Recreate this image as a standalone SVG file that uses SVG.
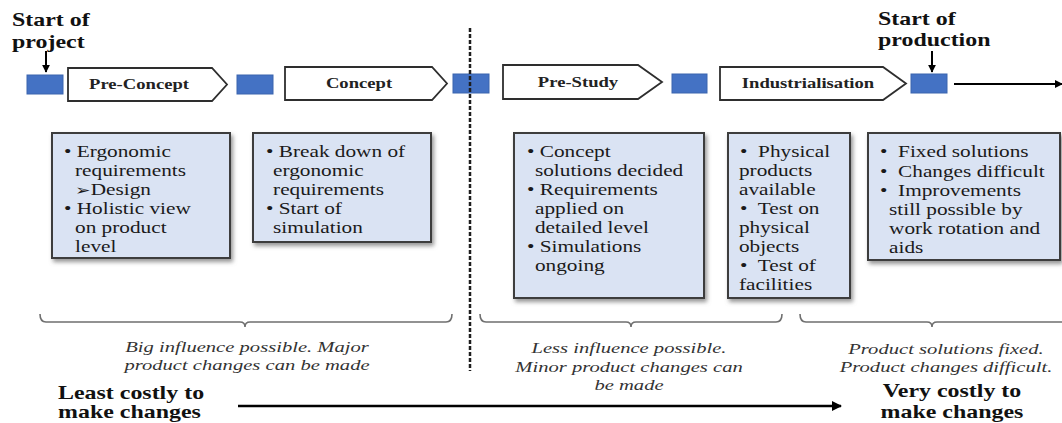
<svg xmlns="http://www.w3.org/2000/svg" width="1062" height="423" viewBox="0 0 1062 423">
  <style>
    .lbl { font-family: "Liberation Serif", "Times New Roman", serif; font-weight: bold; font-size: 18px; fill: #111; }
    .phase { font-family: "Liberation Serif", "Times New Roman", serif; font-weight: bold; font-size: 14px; fill: #222; text-anchor: middle; }
    .body { font-family: "Liberation Serif", "Times New Roman", serif; font-size: 16px; fill: #1a1a1a; }
    .note { font-family: "Liberation Serif", "Times New Roman", serif; font-style: italic; font-size: 15.5px; fill: #333; text-anchor: middle; }
    .gate { fill: #4472C4; stroke: #3A64AE; stroke-width: 1; }
    .arrowshape { fill: #fff; stroke: #2e2e2e; stroke-width: 1.8; }
    .card { fill: #DAE3F3; stroke: #3c3c3c; stroke-width: 2; filter: url(#shadow); }
    .brace { fill: none; stroke: #6f6f6f; stroke-width: 1.6; }
    .conn { stroke: #000; fill: none; }
  </style>
  <defs>
    <filter id="shadow" x="-10%" y="-10%" width="130%" height="130%">
      <feDropShadow dx="2" dy="3" stdDeviation="2" flood-color="#7a7a7a" flood-opacity="0.8"/>
    </filter>
    <marker id="head" viewBox="0 0 10 10" refX="9" refY="5" markerWidth="4" markerHeight="4" markerUnits="strokeWidth" orient="auto">
      <path d="M0,0 L10,5 L0,10 Z" fill="#000"/>
    </marker>
    <marker id="headBig" viewBox="0 0 10 10" refX="9" refY="5" markerWidth="5" markerHeight="4" markerUnits="strokeWidth" orient="auto">
      <path d="M0,0 L10,5 L0,10 Z" fill="#000"/>
    </marker>
  </defs>

  <rect width="1062" height="423" fill="#fff"/>

  <!-- milestone labels -->
  <g id="start-project">
    <g transform="translate(12 0) scale(1.33 1)">
      <text class="lbl" x="0" y="26">Start of</text>
      <text class="lbl" x="0" y="48">project</text>
    </g>
  </g>
  <g id="start-production">
    <g transform="translate(878 0) scale(1.33 1)">
      <text class="lbl" x="0" y="25">Start of</text>
      <text class="lbl" x="0" y="46">production</text>
    </g>
  </g>

  <!-- gates -->
  <g id="gate-1"><rect class="gate" x="27" y="75" width="36" height="19"/></g>
  <g id="gate-2"><rect class="gate" x="237" y="75" width="36" height="19"/></g>
  <g id="gate-3"><rect class="gate" x="453" y="74" width="36" height="19"/></g>
  <g id="gate-4"><rect class="gate" x="672" y="74" width="35" height="19"/></g>
  <g id="gate-5"><rect class="gate" x="911" y="74" width="36" height="19"/></g>

  <!-- phases -->
  <g id="phase-preconcept">
    <path class="arrowshape" d="M68,68 H212 L227,84.5 L212,101 H68 Z"/>
    <text class="phase" transform="translate(139 89) scale(1.33 1)">Pre-Concept</text>
  </g>
  <g id="phase-concept">
    <path class="arrowshape" d="M285,67 H432 L447,83.5 L432,100 H285 Z"/>
    <text class="phase" transform="translate(359 88) scale(1.33 1)">Concept</text>
  </g>
  <g id="phase-prestudy">
    <path class="arrowshape" d="M503,65 H638 L662,82 L638,99 H503 Z"/>
    <text class="phase" transform="translate(578 87) scale(1.33 1)">Pre-Study</text>
  </g>
  <g id="phase-industrialisation">
    <path class="arrowshape" d="M720,67 H883 L906,83.5 L883,100 H720 Z"/>
    <text class="phase" transform="translate(808 88) scale(1.33 1)">Industrialisation</text>
  </g>

  <!-- activity cards -->
  <g id="card-preconcept">
    <rect class="card" x="52" y="133" width="178" height="125"/>
    <g class="body" transform="translate(64 0) scale(1.33 1)">
      <text x="0" y="157">• Ergonomic</text>
      <text x="8.3" y="176">requirements</text>
      <text x="8.3" y="195"><tspan font-family="DejaVu Sans" font-size="14">➢</tspan>Design</text>
      <text x="0" y="214">• Holistic view</text>
      <text x="8.3" y="233">on product</text>
      <text x="8.3" y="252">level</text>
    </g>
  </g>
  <g id="card-concept">
    <rect class="card" x="253" y="133" width="178" height="109"/>
    <g class="body" transform="translate(266 0) scale(1.33 1)">
      <text x="0" y="157">• Break down of</text>
      <text x="5.3" y="176">ergonomic</text>
      <text x="5.3" y="195">requirements</text>
      <text x="0" y="214">• Start of</text>
      <text x="5.3" y="233">simulation</text>
    </g>
  </g>
  <g id="card-prestudy">
    <rect class="card" x="514" y="133" width="190" height="165"/>
    <g class="body" transform="translate(527 0) scale(1.33 1)">
      <text x="0" y="157">• Concept</text>
      <text x="6" y="176">solutions decided</text>
      <text x="0" y="195">• Requirements</text>
      <text x="6" y="214">applied on</text>
      <text x="6" y="233">detailed level</text>
      <text x="0" y="252">• Simulations</text>
      <text x="6" y="271">ongoing</text>
    </g>
  </g>
  <g id="card-industrialisation">
    <rect class="card" x="728" y="133" width="122" height="165"/>
    <g class="body" transform="translate(740 0) scale(1.33 1)">
      <text x="0" y="157">•&#160; Physical</text>
      <text x="-0.8" y="176">products</text>
      <text x="-0.8" y="195">available</text>
      <text x="0" y="214">•&#160; Test on</text>
      <text x="-0.8" y="233">physical</text>
      <text x="-0.8" y="252">objects</text>
      <text x="0" y="271">•&#160; Test of</text>
      <text x="-0.8" y="290">facilities</text>
    </g>
  </g>
  <g id="card-production">
    <rect class="card" x="868" y="133" width="192" height="127"/>
    <g class="body" transform="translate(880 0) scale(1.33 1)">
      <text x="0" y="157">•&#160; Fixed solutions</text>
      <text x="0" y="177">•&#160; Changes difficult</text>
      <text x="0" y="196">•&#160; Improvements</text>
      <text x="6.8" y="215">still possible by</text>
      <text x="6.8" y="234">work rotation and</text>
      <text x="6.8" y="253">aids</text>
    </g>
  </g>

  <!-- influence notes -->
  <g id="note-early">
    <path class="brace" d="M40,314 Q40,322 46,322 H240 Q245,322 245,327 Q245,322 250,322 H446 Q452,322 452,314"/>
    <g transform="translate(247 0) scale(1.33 1)">
      <text class="note" x="0" y="352">Big influence possible. Major</text>
      <text class="note" x="0" y="370">product changes can be made</text>
    </g>
  </g>
  <g id="note-mid">
    <path class="brace" d="M480,314 Q480,322 486,322 H626 Q631,322 631,327 Q631,322 636,322 H776 Q782,322 782,314"/>
    <g transform="translate(629 0) scale(1.33 1)">
      <text class="note" x="0" y="353">Less influence possible.</text>
      <text class="note" x="0" y="372">Minor product changes can</text>
      <text class="note" x="0" y="390">be made</text>
    </g>
  </g>
  <g id="note-late">
    <path class="brace" d="M800,314 Q800,322 806,322 H927 Q932,322 932,327 Q932,322 937,322 H1062"/>
    <g transform="translate(946 0) scale(1.33 1)">
      <text class="note" x="0" y="354">Product solutions fixed.</text>
      <text class="note" x="0" y="372">Product changes difficult.</text>
    </g>
  </g>

  <!-- cost labels -->
  <g id="cost-low">
    <g transform="translate(58 0) scale(1.33 1)">
      <text class="lbl" x="0" y="399">Least costly to</text>
      <text class="lbl" x="0" y="418">make changes</text>
    </g>
  </g>
  <g id="cost-high">
    <g transform="translate(952 0) scale(1.33 1)">
      <text class="lbl" x="0" y="397" text-anchor="middle">Very costly to</text>
      <text class="lbl" x="0" y="418" text-anchor="middle">make changes</text>
    </g>
  </g>

  <!-- connectors -->
  <g id="connectors">
    <line class="conn" x1="46" y1="51" x2="46" y2="72" stroke-width="2" marker-end="url(#head)"/>
    <line class="conn" x1="932" y1="51" x2="932" y2="72" stroke-width="2" marker-end="url(#head)"/>
    <line class="conn" x1="954" y1="84" x2="1062" y2="84" stroke-width="2" marker-end="url(#head)"/>
    <line class="conn" x1="238" y1="406" x2="841" y2="406" stroke-width="2.5" marker-end="url(#headBig)"/>
    <line x1="470" y1="28" x2="470" y2="371" stroke="#1e1e1e" stroke-width="2.5" stroke-dasharray="4 2"/>
  </g>
</svg>
